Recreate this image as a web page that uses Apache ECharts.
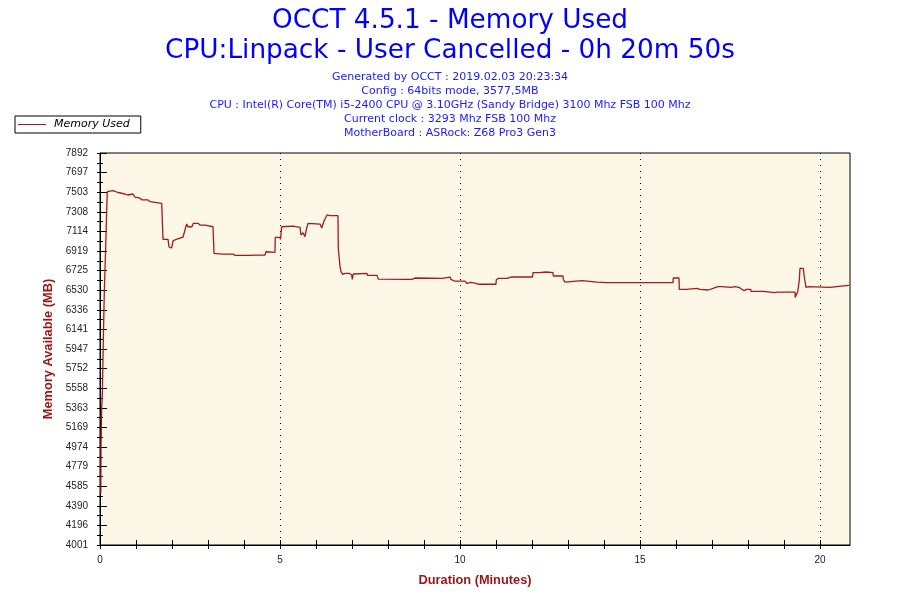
<!DOCTYPE html>
<html>
<head>
<meta charset="utf-8">
<script src="https://cdn.jsdelivr.net/npm/echarts@6.0.0/dist/echarts.min.js"></script>
<style>html,body{margin:0;padding:0;background:#fff}#c{width:900px;height:600px}</style>
</head>
<body>
<div id="c"></div>
<script>
const titleLines = ['OCCT 4.5.1 - Memory Used', 'CPU:Linpack - User Cancelled - 0h 20m 50s'];
const infoLines = [
  'Generated by OCCT : 2019.02.03 20:23:34',
  'Config : 64bits mode, 3577,5MB',
  'CPU : Intel(R) Core(TM) i5-2400 CPU @ 3.10GHz (Sandy Bridge) 3100 Mhz FSB 100 Mhz',
  'Current clock : 3293 Mhz FSB 100 Mhz',
  'MotherBoard : ASRock: Z68 Pro3 Gen3'
];
const seriesName = 'Memory Used';
const xAxisName = 'Duration (Minutes)';
const yAxisName = 'Memory Available (MB)';

const timeMin = [0.022,0.028,0.047,0.047,0.064,0.064,0.092,0.092,0.119,0.119,
0.158,0.158,0.186,0.186,0.203,0.203,0.361,0.5,0.694,0.778,
0.917,0.972,1.019,1.111,1.167,1.333,1.389,1.714,1.722,1.75,
1.889,1.917,1.99,2.028,2.139,2.306,2.361,2.408,2.444,2.556,
2.592,2.722,2.778,2.917,2.972,3.139,3.167,3.389,3.694,3.75,
4.167,4.222,4.306,4.583,4.611,4.861,4.869,5.0,5.014,5.047,
5.083,5.361,5.556,5.583,5.639,5.694,5.742,5.778,6.111,6.158,
6.222,6.306,6.389,6.611,6.619,6.667,6.694,6.742,6.806,6.853,
6.925,6.992,7.008,7.036,7.417,7.431,7.694,7.731,8.556,8.592,
8.658,8.75,9.5,9.519,9.722,9.75,9.797,9.842,10.139,10.186,
10.297,10.417,10.528,10.999,11.008,11.064,11.306,11.325,11.417,11.444,
11.528,12.014,12.028,12.222,12.389,12.583,12.592,12.861,12.869,12.917,
12.964,13.389,13.417,13.806,13.819,13.972,14.028,15.917,15.925,16.083,
16.092,16.278,16.306,16.583,16.611,16.667,16.897,17.028,17.167,17.278,
17.306,17.528,17.556,17.639,17.75,17.825,17.889,17.964,18.075,18.083,
18.417,18.431,18.75,18.764,18.806,19.306,19.311,19.353,19.381,19.425,
19.444,19.536,19.556,19.611,19.675,20.278,20.292,20.528,20.542,20.806];

const memMB = [4514,4977,4977,5374,5374,5473,5473,6036,6036,6499,
6499,6962,6962,7326,7326,7508,7518,7500,7485,7475,
7485,7455,7468,7443,7426,7426,7409,7393,7406,7035,
7035,6959,6949,7019,7038,7058,7061,7187,7160,7160,
7194,7194,7177,7177,7160,7160,6896,6889,6889,6876,
6876,6869,6879,6879,6912,6906,7055,7055,7035,7160,
7167,7167,7153,7078,7101,7061,7148,7194,7187,7148,
7217,7277,7270,7270,6946,6764,6714,6688,6698,6681,
6698,6681,6638,6691,6698,6678,6678,6641,6638,6654,
6638,6651,6648,6661,6661,6638,6654,6621,6621,6598,
6608,6601,6589,6589,6631,6648,6648,6661,6661,6648,
6661,6661,6704,6704,6711,6704,6671,6671,6638,6611,
6625,6625,6611,6611,6601,6608,6605,6605,6651,6651,
6539,6539,6549,6549,6559,6539,6532,6549,6565,6565,
6559,6559,6578,6565,6559,6539,6526,6539,6539,6519,
6519,6512,6506,6502,6512,6512,6459,6459,6515,6631,
6747,6747,6681,6559,6565,6559,6569,6569,6578,6578];

const yTickLabels = [4001,4196,4390,4585,4779,4974,5169,5363,5558,5752,5947,6141,6336,6530,6725,6919,7114,7308,7503,7697,7892];
const xTickLabels = [0,5,10,15,20];
const xMinMax = [0, 20.8333];

const yMinor = yTickLabels.slice(1).map((v, i) => (v + yTickLabels[i]) / 2);
const yAll = yTickLabels.concat(yMinor);
const xMinor = [];
for (let m = 0; m <= 20; m++) xMinor.push(m);

const lineColor = '#A31A1A';
const nameColor = '#9A1515';
const blue = '#0000FF';
const yMin = yTickLabels[0], yMax = yTickLabels[yTickLabels.length - 1];

const chart = echarts.init(document.getElementById('c'), null, {renderer: 'canvas'});

const graphics = [];
titleLines.forEach((t, i) => {
  graphics.push({type: 'text', x: 450, y: [21, 51][i],
    style: {text: t, fill: blue, font: '26.3px "DejaVu Sans"', textAlign: 'center', textVerticalAlign: 'middle'}});
});
infoLines.forEach((t, i) => {
  graphics.push({type: 'text', x: 450, y: 77.5 + i * 13.8,
    style: {text: t, fill: '#1A1AFF', font: '11px "DejaVu Sans"', textAlign: 'center', textVerticalAlign: 'middle'}});
});

const baseY = {type: 'value', min: yMin, max: yMax, position: 'left', splitLine: {show: false}};
const baseX = {type: 'value', min: xMinMax[0], max: xMinMax[1], position: 'bottom'};

chart.setOption({
  backgroundColor: '#ffffff',
  animation: false,
  graphic: graphics,
  legend: {
    left: 15, top: 116, orient: 'horizontal',
    backgroundColor: '#ffffff', borderColor: '#000', borderWidth: 1,
    padding: [3, 11, 3, 3],
    itemWidth: 28, itemHeight: 12,
    textStyle: {fontFamily: 'DejaVu Sans', fontSize: 11, fontStyle: 'italic', color: '#000', padding: [0, 0, 0, 3]},
    data: [{name: seriesName, icon: 'path://M0,0L28,0L28,1L0,1Z', itemStyle: {color: lineColor}}]
  },
  grid: {left: 100, top: 153, width: 750, height: 392, show: true,
    backgroundColor: '#FDF7E8', borderColor: '#000', borderWidth: 1, outerBoundsMode: 'none'},
  xAxis: [
    Object.assign({}, baseX, {
      name: xAxisName, nameLocation: 'middle', nameGap: 29,
      nameTextStyle: {color: nameColor, fontFamily: 'Liberation Sans', fontWeight: 'bold', fontSize: 12.8},
      axisLine: {show: true, lineStyle: {color: '#000', width: 1}},
      axisTick: {show: true, inside: false, length: 4, customValues: xTickLabels, lineStyle: {color: '#000'}},
      axisLabel: {show: true, customValues: xTickLabels, margin: 10, color: '#222', fontFamily: 'Liberation Sans', fontSize: 10,
        formatter: v => String(v)},
      splitLine: {show: true, lineStyle: {color: '#000', type: [1, 5], width: 1}}
    }),
    Object.assign({}, baseX, {
      axisLine: {show: false}, axisLabel: {show: false}, splitLine: {show: false},
      axisTick: {show: true, inside: false, length: 4, customValues: xMinor, lineStyle: {color: '#000'}}
    }),
    Object.assign({}, baseX, {
      axisLine: {show: false}, axisLabel: {show: false}, splitLine: {show: false},
      axisTick: {show: true, inside: true, length: 5, customValues: xMinor, lineStyle: {color: '#000'}}
    })
  ],
  yAxis: [
    Object.assign({}, baseY, {
      name: yAxisName, nameLocation: 'middle', nameGap: 41, nameRotate: 90,
      nameTextStyle: {color: nameColor, fontFamily: 'Liberation Sans', fontWeight: 'bold', fontSize: 12.8},
      axisLine: {show: true, lineStyle: {color: '#000', width: 1}},
      axisTick: {show: true, inside: false, length: 3, customValues: yAll, lineStyle: {color: '#000'}},
      axisLabel: {show: true, customValues: yTickLabels, margin: 12, color: '#222', fontFamily: 'Liberation Sans', fontSize: 10,
        formatter: v => String(Math.round(v))}
    }),
    Object.assign({}, baseY, {
      axisLine: {show: false}, axisLabel: {show: false},
      axisTick: {show: true, inside: true, length: 7, customValues: yTickLabels, lineStyle: {color: '#000'}}
    }),
    Object.assign({}, baseY, {
      axisLine: {show: false}, axisLabel: {show: false},
      axisTick: {show: true, inside: true, length: 3, customValues: yMinor, lineStyle: {color: '#000'}}
    })
  ],
  series: [{
    name: seriesName, type: 'line', xAxisIndex: 0, yAxisIndex: 0,
    symbol: 'none', showSymbol: false,
    lineStyle: {color: lineColor, width: 1.3},
    itemStyle: {color: lineColor},
    data: timeMin.map((t, i) => [t, memMB[i]])
  }]
});
</script>
</body>
</html>
